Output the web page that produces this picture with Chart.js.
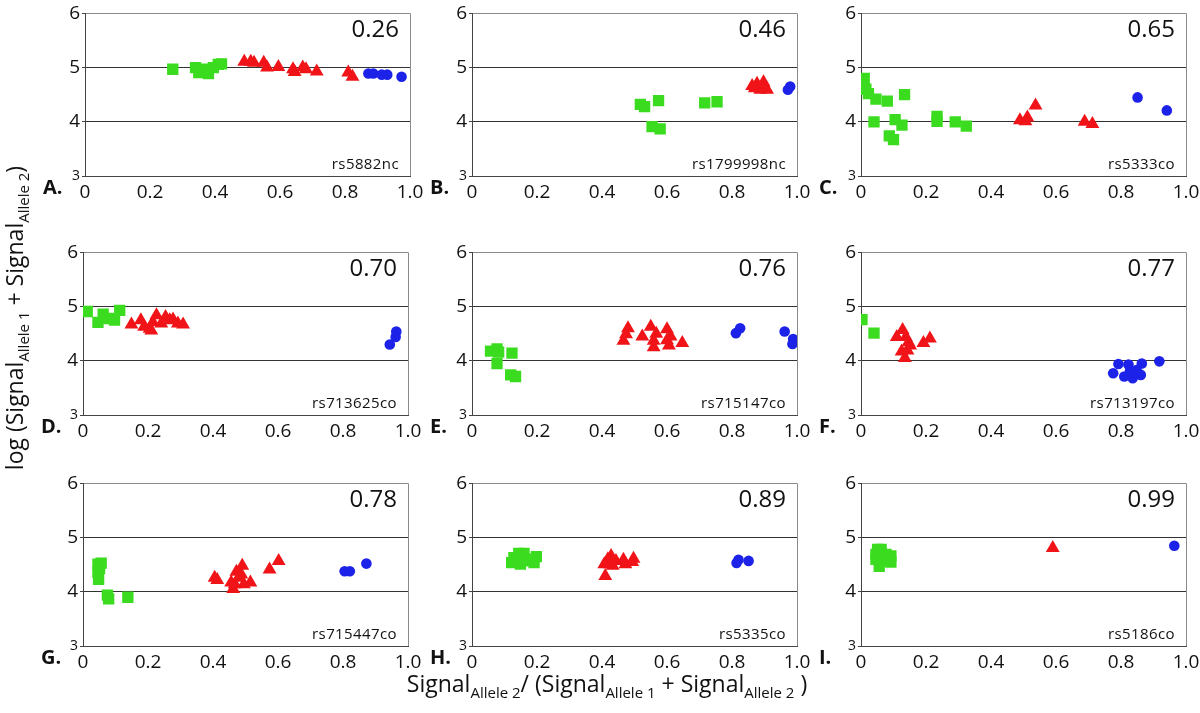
<!DOCTYPE html>
<html lang="en">
<head>
    <meta charset="UTF-8">
    <title>Allele signal panels</title>
    <script src="https://cdn.jsdelivr.net/npm/chart.js"></script>
    <style>
        body {
            margin: 0;
            width: 1200px;
            height: 713px;
            position: relative;
            overflow: hidden;
            background: #fff;
            font-family: "Open Sans", sans-serif;
            color: #111;
        }
        canvas { position: absolute; }
        .txt { position: absolute; white-space: nowrap; line-height: 1; }
        .letter { font-weight: bold; font-size: 20px; }
        .corr { font-size: 24px; }
        .snp { font-size: 15px; letter-spacing: 0.4px; }
        .title { font-size: 23px; }
        .title sub {
            font-size: 15px;
            vertical-align: baseline;
            position: relative;
            top: 6px;
            line-height: 0;
        }
    </style>
</head>
<body>
<script>
// values: [x, y] per point
const aGreen = [[0.27,4.97],[0.34,5.00],[0.35,4.91],[0.37,4.97],[0.38,4.89],[0.395,5.00],[0.41,5.06],[0.42,5.07]];
const aRed = [[0.49,5.11],[0.51,5.11],[0.52,5.09],[0.55,5.09],[0.56,5.00],[0.595,5.01],[0.64,4.97],[0.645,4.92],[0.67,5.00],[0.68,4.97],[0.713,4.93],[0.81,4.91],[0.823,4.83]];
const aBlue = [[0.872,4.89],[0.887,4.89],[0.913,4.87],[0.93,4.87],[0.974,4.83]];

const bGreen = [[0.518,4.32],[0.531,4.28],[0.554,3.91],[0.574,4.39],[0.579,3.87],[0.716,4.35],[0.754,4.37]];
const bRed = [[0.862,4.66],[0.87,4.62],[0.877,4.70],[0.887,4.59],[0.897,4.73],[0.90,4.65],[0.908,4.59]];
const bBlue = [[0.972,4.59],[0.979,4.65]];

const cGreen = [[0.01,4.80],[0.015,4.60],[0.023,4.52],[0.046,4.42],[0.04,4.00],[0.081,4.38],[0.087,3.74],[0.10,3.67],[0.105,4.04],[0.126,3.94],[0.134,4.50],[0.234,4.10],[0.234,4.01],[0.29,4.00],[0.324,3.92]];
const cRed = [[0.489,4.03],[0.506,4.01],[0.512,4.08],[0.537,4.30],[0.688,4.00],[0.712,3.96]];
const cBlue = [[0.851,4.45],[0.941,4.21]];

const dGreen = [[0.013,4.91],[0.046,4.71],[0.062,4.86],[0.079,4.78],[0.097,4.75],[0.113,4.93]];
const dRed = [[0.149,4.67],[0.178,4.75],[0.188,4.63],[0.205,4.59],[0.21,4.56],[0.215,4.71],[0.226,4.84],[0.241,4.69],[0.254,4.81],[0.267,4.75],[0.277,4.76],[0.292,4.69],[0.308,4.67]];
const dBlue = [[0.944,4.30],[0.962,4.44],[0.964,4.54]];

const eGreen = [[0.057,4.18],[0.077,4.22],[0.082,4.16],[0.077,3.95],[0.123,4.14],[0.119,3.74],[0.134,3.71]];
const eRed = [[0.466,4.37],[0.474,4.49],[0.48,4.60],[0.524,4.45],[0.55,4.63],[0.559,4.37],[0.567,4.50],[0.559,4.25],[0.60,4.58],[0.606,4.28],[0.611,4.45],[0.60,4.38],[0.647,4.33]];
const eBlue = [[0.812,4.51],[0.825,4.60],[0.962,4.54],[0.988,4.40],[0.986,4.31]];

const fGreen = [[0.003,4.76],[0.04,4.51]];
const fRed = [[0.11,4.44],[0.128,4.57],[0.138,4.44],[0.146,4.34],[0.151,4.28],[0.125,4.17],[0.135,4.05],[0.143,4.19],[0.192,4.33],[0.212,4.41]];
const fBlue = [[0.776,3.77],[0.792,3.94],[0.81,3.71],[0.823,3.93],[0.828,3.82],[0.836,3.68],[0.848,3.83],[0.861,3.74],[0.864,3.95],[0.918,3.99]];

const gGreen = [[0.046,4.51],[0.056,4.53],[0.051,4.43],[0.046,4.36],[0.048,4.23],[0.075,3.94],[0.079,3.87],[0.138,3.90]];
const gRed = [[0.405,4.26],[0.413,4.22],[0.456,4.17],[0.462,4.05],[0.467,4.14],[0.472,4.37],[0.479,4.26],[0.487,4.32],[0.49,4.48],[0.495,4.14],[0.515,4.17],[0.574,4.41],[0.602,4.57]];
const gBlue = [[0.805,4.38],[0.821,4.38],[0.872,4.52]];

const hGreen = [[0.122,4.54],[0.129,4.63],[0.139,4.57],[0.144,4.71],[0.149,4.51],[0.16,4.71],[0.165,4.57],[0.18,4.60],[0.191,4.54],[0.198,4.65]];
const hRed = [[0.41,4.29],[0.407,4.51],[0.418,4.60],[0.423,4.51],[0.428,4.66],[0.433,4.48],[0.443,4.57],[0.466,4.59],[0.472,4.51],[0.493,4.55],[0.497,4.61]];
const hBlue = [[0.814,4.53],[0.82,4.59],[0.851,4.57]];

const iGreen = [[0.046,4.69],[0.051,4.78],[0.062,4.78],[0.056,4.47],[0.062,4.60],[0.077,4.69],[0.092,4.66],[0.092,4.55],[0.046,4.60],[0.072,4.57]];
const iRed = [[0.59,4.81]];
const iBlue = [[0.964,4.85]];

const panelLetters = ['A.', 'B.', 'C.', 'D.', 'E.', 'F.', 'G.', 'H.', 'I.'];
const corrValues = ['0.26', '0.46', '0.65', '0.70', '0.76', '0.77', '0.78', '0.89', '0.99'];
const snpIds = ['rs5882nc', 'rs1799998nc', 'rs5333co', 'rs713625co', 'rs715147co', 'rs713197co', 'rs715447co', 'rs5335co', 'rs5186co'];
const xTicks = [0, 0.2, 0.4, 0.6, 0.8, 1.0];
const yTicks = [3, 4, 5, 6];

const greens = [aGreen, bGreen, cGreen, dGreen, eGreen, fGreen, gGreen, hGreen, iGreen];
const reds = [aRed, bRed, cRed, dRed, eRed, fRed, gRed, hRed, iRed];
const blues = [aBlue, bBlue, cBlue, dBlue, eBlue, fBlue, gBlue, hBlue, iBlue];

// layout of the plot areas (px)
const plotLeft = [85, 472, 861, 83, 472, 861, 83, 472, 861];
const plotTop = [12, 12, 12, 251, 251, 251, 482, 482, 482];
const plotW = 325, plotH = 164;
const YW = 34, PT = 12, PR = 20, XH = 28;

function addText(cls, html, css) {
    const d = document.createElement('div');
    d.className = 'txt ' + cls;
    d.innerHTML = html;
    Object.assign(d.style, css);
    document.body.appendChild(d);
    return d;
}

const toXY = arr => arr.map(p => ({ x: p[0], y: p[1] }));

for (let i = 0; i < 9; i++) {
    const L = plotLeft[i], T = plotTop[i];
    const cv = document.createElement('canvas');
    cv.width = YW + plotW + PR;
    cv.height = PT + plotH + XH;
    cv.style.left = (L - YW) + 'px';
    cv.style.top = (T - PT) + 'px';
    document.body.appendChild(cv);

    new Chart(cv.getContext('2d'), {
        type: 'scatter',
        data: {
            datasets: [
                { data: toXY(greens[i]), pointStyle: 'rect', pointRadius: 8, backgroundColor: '#3bdc1f', borderWidth: 0 },
                { data: toXY(reds[i]), pointStyle: 'triangle', pointRadius: 8, backgroundColor: '#f01418', borderWidth: 0 },
                { data: toXY(blues[i]), pointStyle: 'circle', pointRadius: 5.3, backgroundColor: '#1c22e8', borderWidth: 0 }
            ]
        },
        options: {
            responsive: false,
            animation: false,
            events: [],
            layout: { padding: { left: 0, top: PT, right: PR, bottom: 0 } },
            plugins: { legend: { display: false }, tooltip: { enabled: false } },
            scales: {
                x: {
                    type: 'linear', min: 0, max: 1,
                    afterFit: s => { s.height = XH; },
                    afterBuildTicks: s => { s.ticks = xTicks.map(v => ({ value: v })); },
                    ticks: {
                        padding: 2,
                        color: '#111',
                        font: { family: 'Open Sans', size: 19 },
                        callback: v => v === 0 ? '0' : v.toFixed(1)
                    },
                    grid: {
                        color: c => (c.tick && Math.abs(c.tick.value - 1) < 1e-9) ? '#8a8a8a' : 'rgba(0,0,0,0)',
                        tickColor: 'rgba(0,0,0,0)',
                        tickLength: 3
                    },
                    border: { color: '#444', width: 1 }
                },
                y: {
                    type: 'linear', min: 3, max: 6,
                    afterFit: s => { s.width = YW; },
                    afterBuildTicks: s => { s.ticks = yTicks.map(v => ({ value: v })); },
                    ticks: {
                        padding: 2,
                        color: '#111',
                        font: c => ({ family: 'Open Sans', size: (c.tick && c.tick.value === 3) ? 14 : 19 }),
                        callback: v => String(v)
                    },
                    grid: {
                        color: c => {
                            const v = c.tick ? c.tick.value : 0;
                            if (v === 6) return '#8a8a8a';
                            if (v === 3) return 'rgba(0,0,0,0)';
                            return '#333';
                        },
                        tickColor: '#444',
                        tickLength: 3
                    },
                    border: { color: '#444', width: 1 }
                }
            }
        }
    });

    const R = 1200 - (L + plotW - 11);
    addText('corr', corrValues[i], { right: R + 'px', top: (T + 4) + 'px' });
    addText('snp', snpIds[i], { right: R + 'px', top: (T + 144) + 'px' });
    addText('letter', panelLetters[i], { left: (L - 42) + 'px', top: (T + plotH + 1) + 'px' });
}

addText('title', 'Signal<sub>Allele 2</sub>/ (Signal<sub>Allele 1</sub> + Signal<sub>Allele 2</sub> )',
    { left: '607px', top: '672px', transform: 'translateX(-50%)' });
addText('title', 'log (Signal<sub>Allele 1</sub> + Signal<sub>Allele 2</sub>)',
    { left: '14px', top: '318px', transform: 'translate(-50%, -50%) rotate(-90deg)' });
</script>
</body>
</html>
